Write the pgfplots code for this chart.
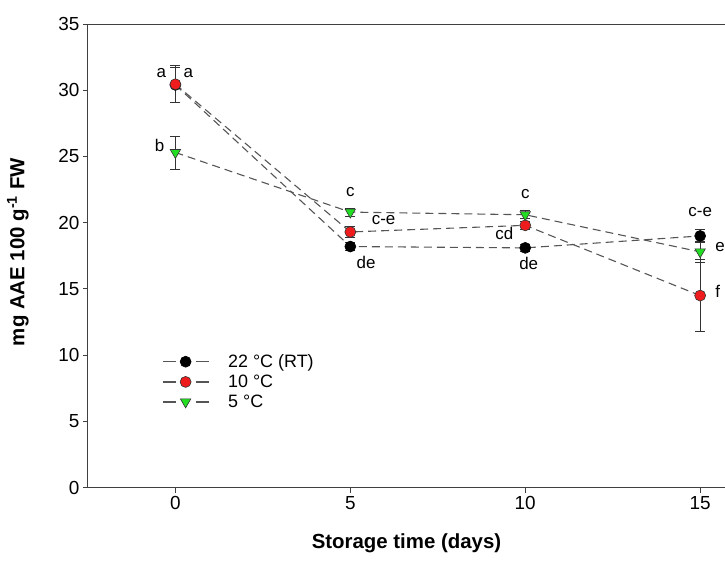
\documentclass[border=0pt]{standalone}
\usepackage{fontspec}
\setmainfont{Liberation Sans}
\usepackage{pgfplots}
\pgfplotsset{compat=1.18}
\definecolor{lgray}{HTML}{555555}
\definecolor{mred}{HTML}{EE1C1C}
\definecolor{mgreen}{HTML}{22DD22}
\begin{document}
\begin{tikzpicture}
\begin{axis}[
  scale only axis,
  width=637.5bp, height=464bp,
  xmin=-2.5, xmax=15.71, ymin=0, ymax=35,
  axis x line*=bottom, axis y line*=left,
  axis line style={line width=0.9pt, color=black!75},
  xtick={0,5,10,15}, ytick={0,5,...,35},
  tick align=outside, tick style={line width=0.9pt, color=black!75},
  major tick length=5bp,
  xtick pos=bottom, ytick pos=left,
  /pgf/number format/assume math mode=true,
  tick label style={font=\fontsize{19}{22}\selectfont},
  xlabel={\textbf{Storage time (days)}},
  ylabel={\textbf{mg AAE 100 g\textsuperscript{-1} FW}},
  label style={font=\fontsize{20.5}{24}\selectfont},
  xlabel style={at={(axis description cs:0.5,-0.12)}, anchor=center},
  ylabel style={at={(axis description cs:-0.11,0.508)}, anchor=center},
  legend style={draw=none, fill=none, at={(0.116,0.292)}, anchor=north west,
    font=\fontsize{18}{20}\selectfont, row sep=2bp, inner sep=0pt,
    /tikz/every odd column/.style={column sep=17bp}},
  legend cell align=left,
  legend image code/.code={
    \draw[solid, line width=1.2pt] (0bp,0bp) -- (13bp,0bp);
    \draw[solid, line width=1.2pt] (33bp,0bp) -- (46bp,0bp);
    \draw[mark repeat=2, mark phase=2, draw=none]
      plot coordinates {(0bp,0bp) (23bp,0bp) (46bp,0bp)};},
  every axis plot/.append style={line width=1.1pt},
]
\addplot[color=lgray, dashed, dash pattern=on 8bp off 5bp,
  mark=*, mark size=5.5bp, mark options={solid, fill=black, draw=black, line width=0.6pt},
  error bars/.cd, y dir=both, y explicit,
  error bar style={solid, black!80, line width=0.8pt},
  error mark options={rotate=90, mark size=5bp, black!80, line width=0.8pt}]
  coordinates {(0,30.4) +- (0,1.3) (5,18.2) +- (0,0.3) (10,18.1) +- (0,0.3) (15,19.0) +- (0,0.5)};
\addlegendentry{22 °C (RT)}
\addplot[color=lgray, dashed, dash pattern=on 8bp off 5bp,
  mark=*, mark size=5.5bp, mark options={solid, fill=mred, draw=black!80, line width=0.6pt},
  error bars/.cd, y dir=both, y explicit,
  error bar style={solid, black!80, line width=0.8pt},
  error mark options={rotate=90, mark size=5bp, black!80, line width=0.8pt}]
  coordinates {(0,30.45) +- (0,1.4) (5,19.3) +- (0,0.4) (10,19.8) +- (0,0.3) (15,14.5) +- (0,2.7)};
\addlegendentry{10 °C}
\addplot[color=lgray, dashed, dash pattern=on 8bp off 5bp,
  mark=triangle*, mark size=6bp, mark options={solid, rotate=180, fill=mgreen, draw=black!80, line width=0.6pt},
  error bars/.cd, y dir=both, y explicit,
  error bar style={solid, black!80, line width=0.8pt},
  error mark options={rotate=90, mark size=5bp, black!80, line width=0.8pt}]
  coordinates {(0,25.3) +- (0,1.25) (5,20.8) +- (0,0.3) (10,20.6) +- (0,0.3) (15,17.8) +- (0,0.8)};
\addlegendentry{5 °C}
\draw[line width=0.9pt, black!75] (rel axis cs:0,1) -- (rel axis cs:1,1);
\begin{scope}[every node/.style={font=\fontsize{17}{20}\selectfont, inner sep=0pt}]
\node at (axis cs:-0.4,31.3) {a};
\node at (axis cs:0.37,31.3) {a};
\node at (axis cs:-0.45,25.8) {b};
\node at (axis cs:5,22.3) {c};
\node at (axis cs:5.95,20.2) {c-e};
\node at (axis cs:5.45,17.0) {de};
\node at (axis cs:10,22.2) {c};
\node at (axis cs:9.4,19.2) {cd};
\node at (axis cs:10.1,16.9) {de};
\node at (axis cs:15,20.8) {c-e};
\node at (axis cs:15.57,18.2) {e};
\node at (axis cs:15.5,14.8) {f};
\end{scope}
\end{axis}
\pgfresetboundingbox
\path[use as bounding box] (current axis.south west) ++(-88bp,-77bp) rectangle ([shift={(0bp,24bp)}]current axis.north east);
\end{tikzpicture}
\end{document}
